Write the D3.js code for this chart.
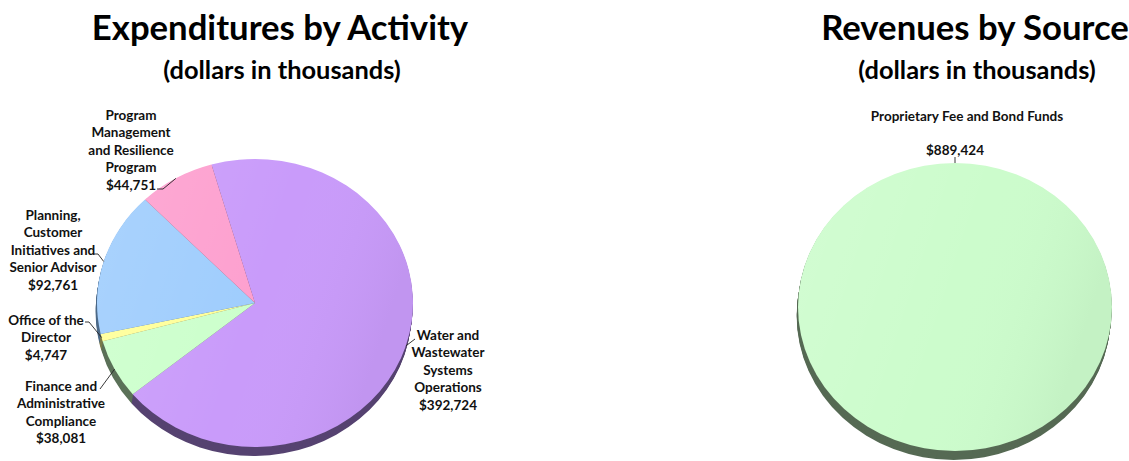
<!DOCTYPE html>
<html>
<head>
<meta charset="utf-8">
<script src="https://cdn.jsdelivr.net/npm/d3@7"></script>
<style>
  body { margin: 0; background: #fff; }
  svg { display: block; font-family: Lato, "Open Sans", sans-serif; font-weight: bold; }
</style>
</head>
<body>
<div id="chart"></div>
<script>
// --- data ---
const expCategories = [
    "Water and Wastewater Systems Operations",
    "Finance and Administrative Compliance",
    "Office of the Director",
    "Planning, Customer Initiatives and Senior Advisor",
    "Program Management and Resilience Program"
];
const expValues = [392724, 38081, 4747, 92761, 44751];
const expLabelLines = [
    ["Water and", "Wastewater", "Systems", "Operations"],
    ["Finance and", "Administrative", "Compliance"],
    ["Office of the", "Director"],
    ["Planning,", "Customer", "Initiatives and", "Senior Advisor"],
    ["Program", "Management", "and Resilience", "Program"]
];
const expColours = ["#c99bfa", "#ccffcc", "#ffff99", "#9fcdfd", "#fda0cf"];
const expSides = ["#564371", "#5b7158", "#7a7a4a", "#4d6a88", "#7a4f64"];

const revCategories = ["Proprietary Fee and Bond Funds"];
const revValues = [889424];
const revColours = ["#ccfccc"];
const revSides = ["#566a54"];

const fmt = d3.format("$,");
const W = 1129, H = 461;
const labelSize = "13.5px";

const svg = d3.select("#chart").append("svg")
    .attr("width", W)
    .attr("height", H);

const defs = svg.append("defs");
const shade = defs.append("linearGradient")
    .attr("id", "shade")
    .attr("x1", "0").attr("y1", "0").attr("x2", "1").attr("y2", "0.3");
shade.append("stop").attr("offset", "0").attr("stop-color", "#fff").attr("stop-opacity", 0.12);
shade.append("stop").attr("offset", "0.6").attr("stop-color", "#fff").attr("stop-opacity", 0);
shade.append("stop").attr("offset", "1").attr("stop-color", "#000").attr("stop-opacity", 0.04);

function titles(cx, title) {
    svg.append("text")
	.attr("x", cx).attr("y", 40)
	.attr("text-anchor", "middle")
	.style("font-size", "34.7px")
	.text(title);
    svg.append("text")
	.attr("x", cx + 2).attr("y", 79)
	.attr("text-anchor", "middle")
	.style("font-size", "25.4px")
	.text("(dollars in thousands)");
}

// draws a tilted pie: side wall first, then the top face
function drawPie(opts) {
    const {cx, cy, rx, ry, depth, values, colours, sides, startAngle} = opts;
    const pie = d3.pie().sort(null)
	.startAngle(startAngle)
	.endAngle(startAngle + 2 * Math.PI);
    const arcs = pie(values);
    const arc = d3.arc().innerRadius(0).outerRadius(rx);

    for (let k = depth; k > 0; k--) {
	svg.append("g")
	    .attr("transform", `translate(${cx - k * 0.15}, ${cy + k}) scale(1, ${ry / rx})`)
	    .selectAll("path")
	    .data(arcs)
	    .join("path")
	    .attr("d", arc)
	    .attr("fill", (d, i) => sides[i]);
    }
    const top = svg.append("g")
	.attr("transform", `translate(${cx}, ${cy}) scale(1, ${ry / rx})`);
    top.selectAll("path")
	.data(arcs)
	.join("path")
	.attr("d", arc)
	.attr("fill", (d, i) => colours[i]);
    top.append("circle")
	.attr("r", rx)
	.attr("fill", "url(#shade)");

    // point on the rim for each slice label (a lone slice is labelled at its start)
    return arcs.map(d => {
	const a = arcs.length === 1 ? d.startAngle : (d.startAngle + d.endAngle) / 2;
	return [cx + rx * Math.sin(a), cy - ry * Math.cos(a)];
    });
}

function label(lines, x, y, lh) {
    const t = svg.append("text")
	.attr("text-anchor", "middle")
	.style("font-size", labelSize)
	.attr("fill", "#111");
    lines.forEach((s, i) => {
	t.append("tspan").attr("x", x).attr("y", y + i * lh).text(s);
    });
}

function leader(points) {
    svg.append("path")
	.attr("d", d3.line()(points))
	.attr("fill", "none")
	.attr("stroke", "#222")
	.attr("stroke-width", 0.9);
}

// --- expenditures ---
titles(280, "Expenditures by Activity");
const rimL = drawPie({
    cx: 255, cy: 303, rx: 158, ry: 144, depth: 9,
    values: expValues, colours: expColours, sides: expSides,
    startAngle: -16 * Math.PI / 180
});

// label layout: centre x, first baseline, leader end
const expLayout = [
    {x: 448, y: 340, end: [[415, 339]]},
    {x: 61, y: 391, end: [[100, 389]]},
    {x: 46, y: 325, end: [[85, 322], [89, 322]]},
    {x: 53, y: 220, end: [[94, 254], [98, 254]]},
    {x: 131, y: 120, end: [[157, 189], [163, 189]]}
];
const lh = 17.4;
expLayout.forEach((L, i) => {
    const lines = expLabelLines[i].concat([fmt(expValues[i])]);
    label(lines, L.x, L.y, lh);
    leader(L.end.concat([rimL[i]]));
});

// --- revenues ---
titles(975, "Revenues by Source");
const rimR = drawPie({
    cx: 955, cy: 307, rx: 157, ry: 144, depth: 9,
    values: revValues, colours: revColours, sides: revSides,
    startAngle: 0
});
svg.append("text")
    .attr("x", 967).attr("y", 121)
    .attr("text-anchor", "middle")
    .style("font-size", labelSize)
    .attr("fill", "#111")
    .text(revCategories[0]);
svg.append("text")
    .attr("x", 955).attr("y", 155)
    .attr("text-anchor", "middle")
    .style("font-size", labelSize)
    .attr("fill", "#111")
    .text(fmt(revValues[0]));
leader([[rimR[0][0], 157], rimR[0]]);
</script>
</body>
</html>
